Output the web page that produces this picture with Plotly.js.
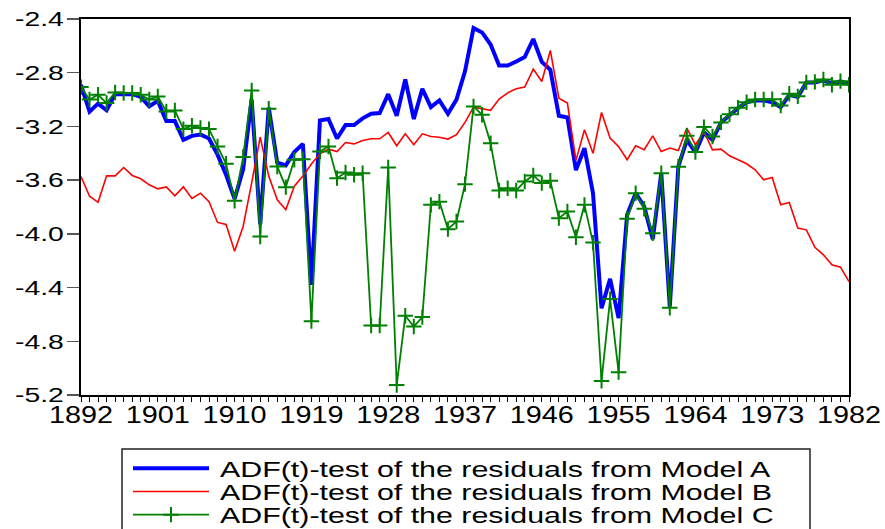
<!DOCTYPE html>
<html>
<head>
<meta charset="utf-8">
<script src="https://cdn.plot.ly/plotly-3.0.1.min.js"></script>
<style>
html,body{margin:0;padding:0;background:#fff;}
#chart{width:885px;height:529px;}
</style>
</head>
<body>
<div id="chart"></div>
<script>
// ---- data ----
const firstYear = 1892;
const lastYear = 1982;
const years = [];
for (let y = firstYear; y <= lastYear; y++) years.push(y);

const modelA = [
  -2.89, -3.09, -3.03, -3.08, -2.96, -2.96, -2.96, -2.98, -3.05, -3.01,
  -3.16, -3.16, -3.30, -3.27, -3.26, -3.29, -3.41, -3.56, -3.74, -3.52,
  -3.00, -3.93, -3.06, -3.47, -3.49, -3.39, -3.33, -4.38, -3.155, -3.145,
  -3.29, -3.19, -3.19, -3.14, -3.105, -3.10, -2.96, -3.12, -2.85, -3.145,
  -2.92, -3.056, -3.007, -3.106, -3.00, -2.79, -2.467, -2.50, -2.59, -2.746,
  -2.747, -2.716, -2.683, -2.549, -2.72, -2.778, -3.12, -3.133, -3.525, -3.362,
  -3.697, -4.554, -4.335, -4.628, -3.858, -3.697, -3.796, -4.04, -3.548, -4.541,
  -3.498, -3.30, -3.394, -3.245, -3.30, -3.17, -3.113, -3.063, -3.021, -3.006,
  -3.006, -3.02, -3.056, -2.964, -2.981, -2.872, -2.872, -2.857, -2.882, -2.865,
  -2.882
];

const modelB = [
  -3.573, -3.72, -3.765, -3.568, -3.568, -3.506, -3.565, -3.59, -3.635, -3.665,
  -3.65, -3.717, -3.65, -3.737, -3.697, -3.76, -3.915, -3.93, -4.13, -3.945,
  -3.62, -3.28, -3.57, -3.747, -3.82, -3.645, -3.57, -3.48, -3.404, -3.369,
  -3.387, -3.32, -3.33, -3.305, -3.292, -3.292, -3.245, -3.344, -3.255, -3.336,
  -3.255, -3.275, -3.28, -3.294, -3.262, -3.17, -3.056, -3.07, -3.08, -2.996,
  -2.95, -2.92, -2.907, -2.773, -2.865, -2.634, -2.99, -3.026, -3.453, -3.225,
  -3.40, -3.096, -3.287, -3.35, -3.448, -3.344, -3.374, -3.27, -3.387, -3.361,
  -3.379, -3.212, -3.337, -3.237, -3.374, -3.369, -3.419, -3.448, -3.478, -3.523,
  -3.597, -3.58, -3.784, -3.766, -3.957, -3.97, -4.10, -4.156, -4.23, -4.248,
  -4.355
];

const modelC = [
  -2.907, -3.00, -2.964, -3.026, -2.947, -2.951, -2.951, -2.964, -3.00, -2.977,
  -3.089, -3.081, -3.22, -3.195, -3.212, -3.22, -3.349, -3.478, -3.754, -3.428,
  -2.932, -4.02, -3.068, -3.498, -3.652, -3.448, -3.444, -4.65, -3.387, -3.349,
  -3.585, -3.543, -3.56, -3.548, -4.683, -4.683, -3.505, -5.125, -4.61, -4.69,
  -4.62, -3.784, -3.76, -3.965, -3.908, -3.63, -3.051, -3.113, -3.325, -3.677,
  -3.66, -3.677, -3.61, -3.565, -3.622, -3.605, -3.883, -3.834, -4.025, -3.784,
  -4.065, -5.095, -4.486, -5.03, -3.888, -3.697, -3.813, -3.995, -3.548, -4.55,
  -3.50, -3.27, -3.39, -3.205, -3.275, -3.17, -3.11, -3.06, -3.02, -3.00,
  -3.00, -2.998, -3.045, -2.957, -2.976, -2.872, -2.868, -2.85, -2.89, -2.863,
  -2.89
];

const seriesNames = [
  'ADF(t)-test of the residuals from Model A',
  'ADF(t)-test of the residuals from Model B',
  'ADF(t)-test of the residuals from Model C'
];

const yTickVals = [-5.2, -4.8, -4.4, -4.0, -3.6, -3.2, -2.8, -2.4];
const yTickText = ['-5.2', '-4.8', '-4.4', '-4.0', '-3.6', '-3.2', '-2.8', '-2.4'];

// ---- traces ----
const traces = [
  {x: years, y: modelA, name: seriesNames[0], type: 'scatter', mode: 'lines',
   line: {color: '#0000FF', width: 4}},
  {x: years, y: modelB, name: seriesNames[1], type: 'scatter', mode: 'lines',
   line: {color: '#FF0000', width: 1.6}},
  {x: years, y: modelC, name: seriesNames[2], type: 'scatter', mode: 'lines+markers',
   line: {color: '#008000', width: 1.8},
   marker: {symbol: 'cross-thin', size: 11, color: '#008000', line: {color: '#008000', width: 2}}}
];

const FONT = 'Liberation Sans, Arial, sans-serif';

const layout = {
  width: 885, height: 529,
  margin: {l: 81, r: 36, t: 19, b: 134, autoexpand: false},
  paper_bgcolor: '#ffffff', plot_bgcolor: '#ffffff',
  font: {family: FONT, color: '#000000'},
  xaxis: {
    range: [firstYear, lastYear], tick0: firstYear, dtick: 9,
    ticks: 'outside', ticklen: 5, tickwidth: 1, tickcolor: '#000',
    tickfont: {family: FONT, size: 24, color: '#000'},
    showgrid: false, zeroline: false, showline: true, mirror: true,
    linecolor: '#000', linewidth: 2,
    minor: {dtick: 1, ticks: 'outside', ticklen: 5, tickwidth: 1, tickcolor: '#000', showgrid: false},
    ticklabelstandoff: -8
  },
  yaxis: {
    range: [-5.2, -2.4], tickmode: 'array', tickvals: yTickVals, ticktext: yTickText,
    ticks: 'outside', ticklen: 12, tickwidth: 1.5, tickcolor: '#555',
    tickfont: {family: FONT, size: 21, color: '#000'},
    showgrid: false, zeroline: false, showline: true, mirror: true,
    linecolor: '#000', linewidth: 2, ticklabelstandoff: -1
  },
  showlegend: true,
  legend: {
    x: 0.0612, xanchor: 'left', y: -0.151, yanchor: 'top',
    font: {family: FONT, size: 15.5, color: '#000'},
    bgcolor: 'rgba(0,0,0,0)', borderwidth: 0, itemwidth: 82, tracegroupgap: 0
  },
  shapes: [{
    type: 'rect', xref: 'paper', yref: 'paper',
    x0: 0.0534, x1: 0.9492, y0: -0.1436, y1: -0.40,
    line: {color: '#222', width: 1.5}, fillcolor: 'rgba(0,0,0,0)', layer: 'above'
  }]
};

// widen text horizontally (the reference picture is stretched sideways)
function stretch(gd) {
  const rules = [
    ['.xtick text', 1.2, 1],
    ['.ytick text', 1.35, 1],
    ['.legendtext', 1.96, 1.38]
  ];
  rules.forEach(([sel, sx, sy]) => {
    gd.querySelectorAll(sel).forEach(t => {
      const cur = t.getAttribute('transform') || '';
      if (t.__done === cur) return;
      const X = parseFloat(t.getAttribute('x')) || 0;
      const tf = cur + ' translate(' + X + ',0) scale(' + sx + ',' + sy + ') translate(' + (-X) + ',0)';
      t.setAttribute('transform', tf);
      t.__done = tf;
    });
  });
  gd.querySelectorAll('.legend .scrollbox, .legend [clip-path]').forEach(g => g.removeAttribute('clip-path'));
  const sampleLen = 76;
  gd.querySelectorAll('.legendlines path').forEach(p => {
    if (p.__done) return;
    const bb = p.getBBox();
    if (!bb.width) return;
    const k = sampleLen / bb.width;
    p.setAttribute('transform', 'translate(' + bb.x + ',0) scale(' + k + ',1) translate(' + (-bb.x) + ',0)');
    p.__done = true;
    p.style.vectorEffect = 'non-scaling-stroke';
  });
  gd.querySelectorAll('.legendpoints path.scatterpts').forEach(p => {
    p.setAttribute('transform', 'translate(' + (5 + sampleLen / 2) + ',0)');
  });
}

const gd = document.getElementById('chart');
Plotly.newPlot(gd, traces, layout, {staticPlot: true, displayModeBar: false}).then(() => {
  stretch(gd);
  gd.on('plotly_afterplot', () => stretch(gd));
});
</script>
</body>
</html>
